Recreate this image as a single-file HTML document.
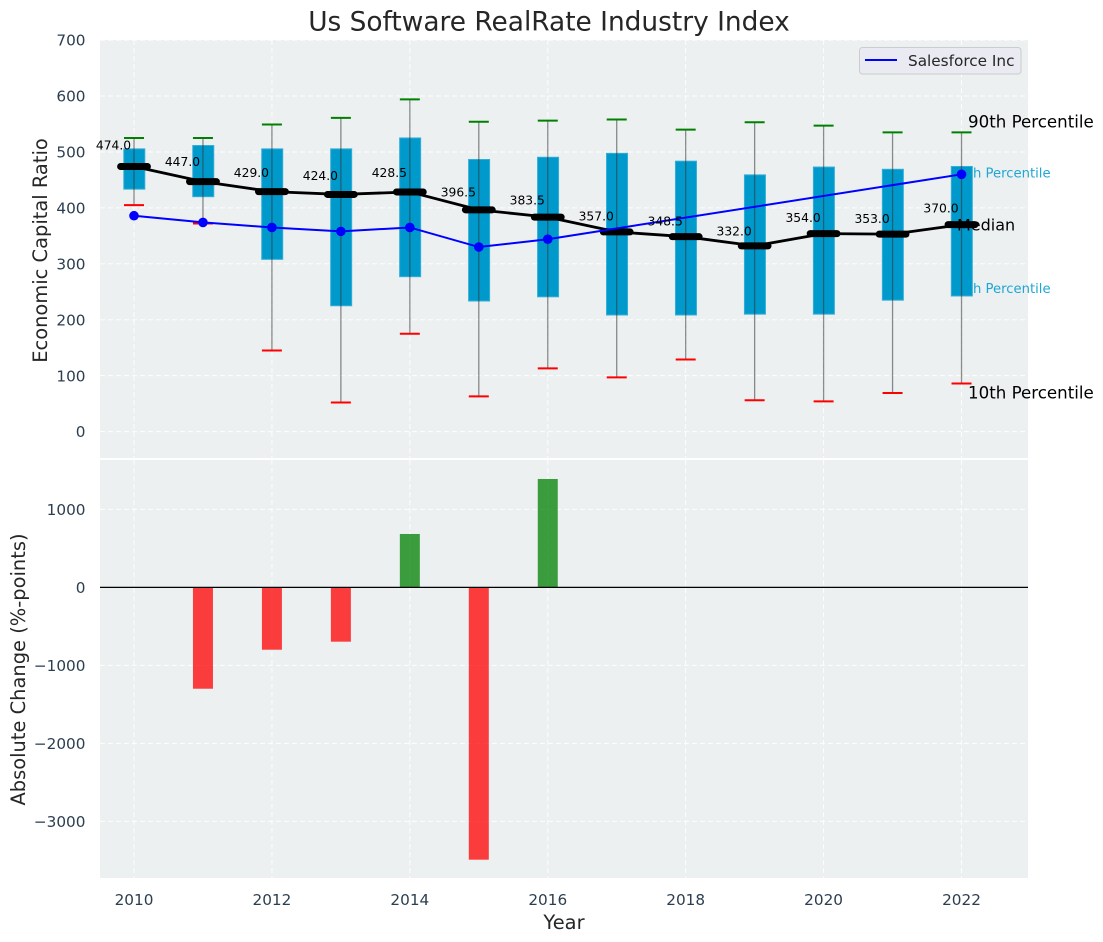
<!DOCTYPE html>
<html lang="en">
<head>
<meta charset="utf-8">
<title>Us Software RealRate Industry Index</title>
<style>
html,body{margin:0;padding:0;background:#fff;width:1103px;height:942px;overflow:hidden}
svg{display:block;font-family:"DejaVu Sans","Liberation Sans",sans-serif}
</style>
</head>
<body>
<svg id="chart" xmlns="http://www.w3.org/2000/svg" width="1103" height="942" viewBox="0 0 1103 942">
  <rect x="0" y="0" width="1103" height="942" fill="#ffffff"/>
  <rect x="100" y="40" width="928" height="418" fill="#ecf0f1"/>
  <rect x="100" y="460" width="928" height="418" fill="#ecf0f1"/>
  <g id="grid"></g>
  <g id="ptext">
    <text x="951" y="177.500" font-size="13.200" fill="#1fa6d3">75th Percentile</text>
    <text x="951" y="293" font-size="13.200" fill="#1fa6d3">25th Percentile</text>
  </g>
  <g id="boxes"></g>
  <text x="957" y="230.500" font-size="16" fill="#000000">Median</text>
  <g id="marks"></g>
  <text x="968" y="127.500" font-size="16.670" fill="#000000">90th Percentile</text>
  <text x="968" y="398.500" font-size="16.670" fill="#000000">10th Percentile</text>
  <g id="ticks"></g>
  <text x="549" y="30.500" text-anchor="middle" font-size="26.400" fill="#262626">Us Software RealRate Industry Index</text>
  <text transform="translate(47,250.500) rotate(-90)" text-anchor="middle" font-size="19.440" fill="#262626">Economic Capital Ratio</text>
  <text transform="translate(25,669.500) rotate(-90)" text-anchor="middle" font-size="19.440" fill="#262626">Absolute Change (%-points)</text>
  <text x="564" y="929" text-anchor="middle" font-size="19.440" fill="#262626">Year</text>
  <g>
    <rect x="859.500" y="47.500" width="161.500" height="26.500" rx="3" fill="#eaeaf2" stroke="#cccccc" stroke-width="1"/>
    <line x1="865" y1="60" x2="897" y2="60" stroke="#0000ff" stroke-width="2"/>
    <text x="908" y="66" font-size="15.280" fill="#262626">Salesforce Inc</text>
  </g>
</svg>
<script>
var years = [2010,2011,2012,2013,2014,2015,2016,2017,2018,2019,2020,2021,2022];
var p90 = [525,525,549,561,594,554,556,558,540,553,547,535,535];
var p75 = [505.5,511.5,505.5,505.5,525,486.5,490.5,497.5,483.5,459,473,469,474];
var medians = [474,447,429,424,428.5,396.5,383.5,357,348.5,332,354,353,370];
var p25 = [433.5,420,308,225,277,233.5,241,208.5,208.5,210,210,235,242.5];
var p10 = [405,372,145,52,175,63,113,97,129,56,54,69,86];
var companyYears = [2010,2011,2012,2013,2014,2015,2016,2022];
var companyValues = [386,374,365,358,365,330,344,460];
var changeYears = [2011,2012,2013,2014,2015,2016];
var changeValues = [-1299,-799,-696,685,-3491,1390];
var xTickValues = [2010,2012,2014,2016,2018,2020,2022];
var yTopTicks = [0,100,200,300,400,500,600,700];
var yBottomTicks = [-3000,-2000,-1000,0,1000];
var labelLift = 1.08;

function xS(v){ return 134 + (v - 2010) * 68.96; }
function yTop(v){ return 431.6 - v * 0.5593; }
function yBot(v){ return 587.4 - v * 0.078; }
function fmtTick(v){ return v < 0 ? '\u2212' + Math.abs(v) : String(v); }

var NS = 'http://www.w3.org/2000/svg';
function mk(parentId, tag, attrs){
  var e = document.createElementNS(NS, tag);
  for (var k in attrs) e.setAttribute(k, attrs[k]);
  document.getElementById(parentId).appendChild(e);
  return e;
}
var gridStyle = {stroke:'#ffffff','stroke-width':1,'stroke-dasharray':'5 3','stroke-opacity':0.9};
function withGrid(a){ for (var k in gridStyle) a[k] = gridStyle[k]; return a; }

xTickValues.forEach(function(v){
  var g1 = mk('grid','line',withGrid({x1:xS(v),x2:xS(v),y1:40,y2:458}));
  
  
  var g2 = mk('grid','line',withGrid({x1:xS(v),x2:xS(v),y1:460,y2:878}));
  
  
  var t = mk('ticks','text',{x:xS(v),y:905,'text-anchor':'middle','font-size':15.28,fill:'#2c3e50'});
  
  
  t.textContent = String(v);
});
yTopTicks.forEach(function(v){
  var g = mk('grid','line',withGrid({x1:100,x2:1028,y1:yTop(v),y2:yTop(v)}));
  
  
  var t = mk('ticks','text',{x:85.5,y:yTop(v)+5.6,'text-anchor':'end','font-size':15.28,fill:'#2c3e50'});
  
  
  t.textContent = fmtTick(v);
});
yBottomTicks.forEach(function(v){
  var g = mk('grid','line',withGrid({x1:100,x2:1028,y1:yBot(v),y2:yBot(v)}));
  
  
  var t = mk('ticks','text',{x:85.5,y:yBot(v)+5.6,'text-anchor':'end','font-size':15.28,fill:'#2c3e50'});
  
  
  t.textContent = fmtTick(v);
});

years.forEach(function(yr, i){
  var x = xS(yr);
  var box = mk('boxes','rect',{x:x-10.2,y:yTop(p75[i]),width:21,height:yTop(p25[i])-yTop(p75[i]),fill:'#0099cc',stroke:'#33aed6','stroke-width':1});
  
  
  var w = mk('marks','line',{x1:x,x2:x,y1:yTop(p90[i]),y2:yTop(p10[i]),stroke:'#333333','stroke-width':1.3,'stroke-opacity':0.55});
  
  
  var capHi = mk('marks','line',{x1:x-10,x2:x+10,y1:yTop(p90[i]),y2:yTop(p90[i]),stroke:'#008000','stroke-width':2});
  
  
  var capLo = mk('marks','line',{x1:x-10,x2:x+10,y1:yTop(p10[i]),y2:yTop(p10[i]),stroke:'#ff0000','stroke-width':2});
  
  
});

var medianPath = mk('marks','polyline',{fill:'none',stroke:'#000000','stroke-width':2.8,'stroke-linejoin':'round',
  points:years.map(function(yr,i){ return xS(yr)+','+yTop(medians[i]); }).join(' ')});



years.forEach(function(yr, i){
  var x = xS(yr), y = yTop(medians[i]);
  var m = mk('marks','line',{x1:x-13.4,x2:x+13.4,y1:y,y2:y,stroke:'#000000','stroke-width':7,'stroke-linecap':'round'});
  
  
});

var companyLine = mk('marks','polyline',{fill:'none',stroke:'#0000ff','stroke-width':2,
  points:companyYears.map(function(yr,i){ return xS(yr)+','+yTop(companyValues[i]); }).join(' ')});


companyYears.forEach(function(yr, i){
  var c = mk('marks','circle',{cx:xS(yr),cy:yTop(companyValues[i]),r:4.8,fill:'#0000ff'});
  
  
});

years.forEach(function(yr, i){
  var t = mk('marks','text',{x:xS(yr)-20.5,y:yTop(medians[i]*labelLift)+4.4,'text-anchor':'middle','font-size':12.3,fill:'#000000'});
  
  
  t.textContent = medians[i].toFixed(1);
});

changeYears.forEach(function(yr, i){
  var v = changeValues[i], a = yBot(Math.max(v,0)), b = yBot(Math.min(v,0));
  var r = mk('marks','rect',{x:xS(yr)-10,y:a,width:20,height:b-a,fill:v<0?'#ff0000':'#008000','fill-opacity':0.75});
  
  
});
var zero = mk('marks','line',{x1:100,x2:1028,y1:yBot(0),y2:yBot(0),stroke:'#000000','stroke-width':1.2});


</script>
</body>
</html>
